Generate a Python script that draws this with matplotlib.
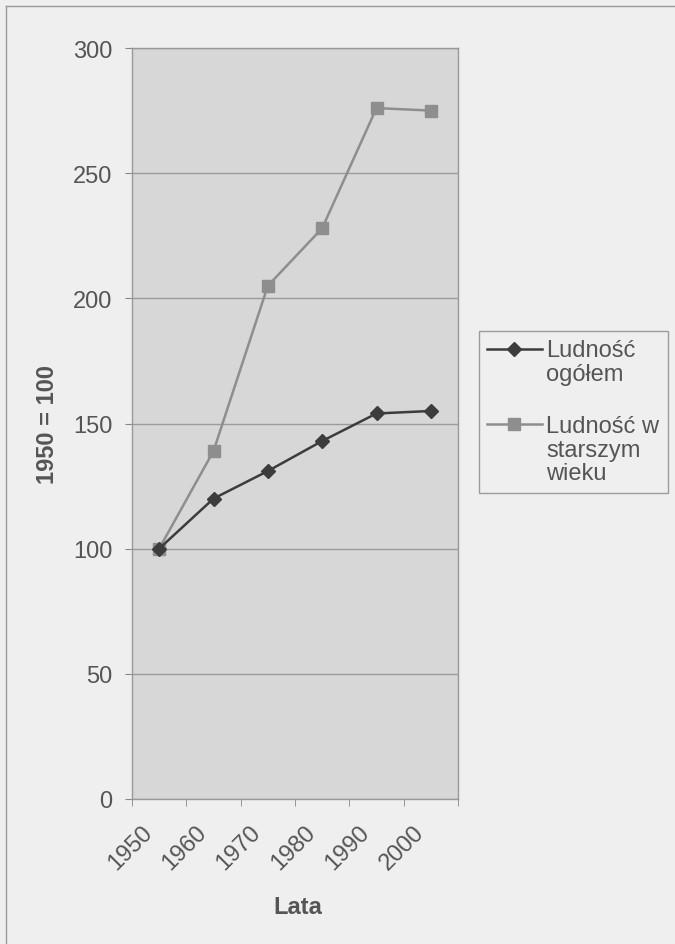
import matplotlib.pyplot as plt
from matplotlib.lines import Line2D
from matplotlib.legend_handler import HandlerLine2D
from matplotlib.ticker import FixedLocator
from matplotlib.transforms import ScaledTranslation

plt.rcParams['font.family'] = ['Liberation Sans', 'DejaVu Sans']

# Dane: indeks 1950 = 100
lata = ['1950', '1960', '1970', '1980', '1990', '2000']
ludnosc_ogolem = [100, 120, 131, 143, 154, 155]
ludnosc_starsza = [100, 139, 205, 228, 276, 275]
etykiety = ['Ludność\nogółem', 'Ludność w\nstarszym\nwieku']

bg = '#efefef'
plot_bg = '#d7d7d7'
txt = '#555555'
fs = 17


class HandlerTopLine(HandlerLine2D):
    """Linia w legendzie wyrównana do pierwszego wiersza opisu."""

    def __init__(self, shift, **kw):
        super().__init__(**kw)
        self.shift = shift

    def create_artists(self, legend, orig_handle, xdescent, ydescent,
                       width, height, fontsize, trans):
        return super().create_artists(legend, orig_handle, xdescent,
                                      ydescent - 2 * self.shift, width,
                                      height, fontsize, trans)


fig = plt.figure(figsize=(6.75, 9.45), dpi=100, facecolor=bg)
ax = fig.add_axes([132 / 675, 145 / 945, 326 / 675, 751 / 945])
ax.set_facecolor(plot_bg)

x = range(len(lata))
l1, = ax.plot(x, ludnosc_ogolem, color='#3c3c3c', lw=1.8, marker='D', ms=7,
              label=etykiety[0], zorder=3)
l2, = ax.plot(x, ludnosc_starsza, color='#8e8e8e', lw=1.8, marker='s', ms=8,
              label=etykiety[1], zorder=2)

ax.set_xlim(-0.5, len(lata) - 0.5)
ax.set_ylim(0, 300)
ax.set_yticks(range(0, 301, 50))
ax.yaxis.grid(True, color='#9a9a9a', lw=1)
ax.set_axisbelow(True)

ax.set_xticks(list(x))
ax.set_xticklabels(lata, rotation=45, ha='right', rotation_mode='anchor')
ax.xaxis.set_minor_locator(FixedLocator([i - 0.5 for i in range(len(lata) + 1)]))
ax.tick_params(axis='x', which='major', length=0, pad=16, labelsize=fs, labelcolor=txt)
ax.tick_params(axis='x', which='minor', length=5, color='#888888')
ax.tick_params(axis='y', length=5, color='#888888', pad=9, labelsize=fs, labelcolor=txt)
shift = ScaledTranslation(-0.18, 0, fig.dpi_scale_trans)
for lab in ax.get_xticklabels():
    lab.set_transform(lab.get_transform() + shift)

for s in ax.spines.values():
    s.set_color('#999999')
    s.set_linewidth(1)

ax.set_xlabel('Lata', fontsize=fs, fontweight='bold', color=txt)
ax.xaxis.set_label_coords((298 - 132) / 326, (800 - 896) / 751)
ax.set_ylabel('1950 = 100', fontsize=fs, fontweight='bold', color=txt)
ax.yaxis.set_label_coords((59 - 132) / 326, 0.5)

line_h = 1.1 * fs
leg = fig.legend([l1, l2], etykiety, loc='upper left',
                 bbox_to_anchor=(479 / 675, 1 - 332 / 945),
                 fontsize=fs, frameon=True, fancybox=False, handlelength=2.3,
                 handletextpad=0.2, labelspacing=1.27, borderpad=0.35,
                 borderaxespad=0, labelcolor=txt,
                 handler_map={l1: HandlerTopLine(0.5 * line_h),
                              l2: HandlerTopLine(1.0 * line_h)})
for t in leg.get_texts():
    t.set_linespacing(1.1)
leg.get_frame().set_edgecolor('#888888')
leg.get_frame().set_facecolor(bg)
leg.get_frame().set_linewidth(1)

# górna i lewa krawędź ramki wykresu
fig.add_artist(Line2D([6 / 675, 6 / 675], [0, 1 - 7 / 945],
                      transform=fig.transFigure, color='#999999', lw=1))
fig.add_artist(Line2D([6 / 675, 1], [1 - 7 / 945, 1 - 7 / 945],
                      transform=fig.transFigure, color='#999999', lw=1))

fig.savefig('out.png', dpi=100, facecolor=bg)
